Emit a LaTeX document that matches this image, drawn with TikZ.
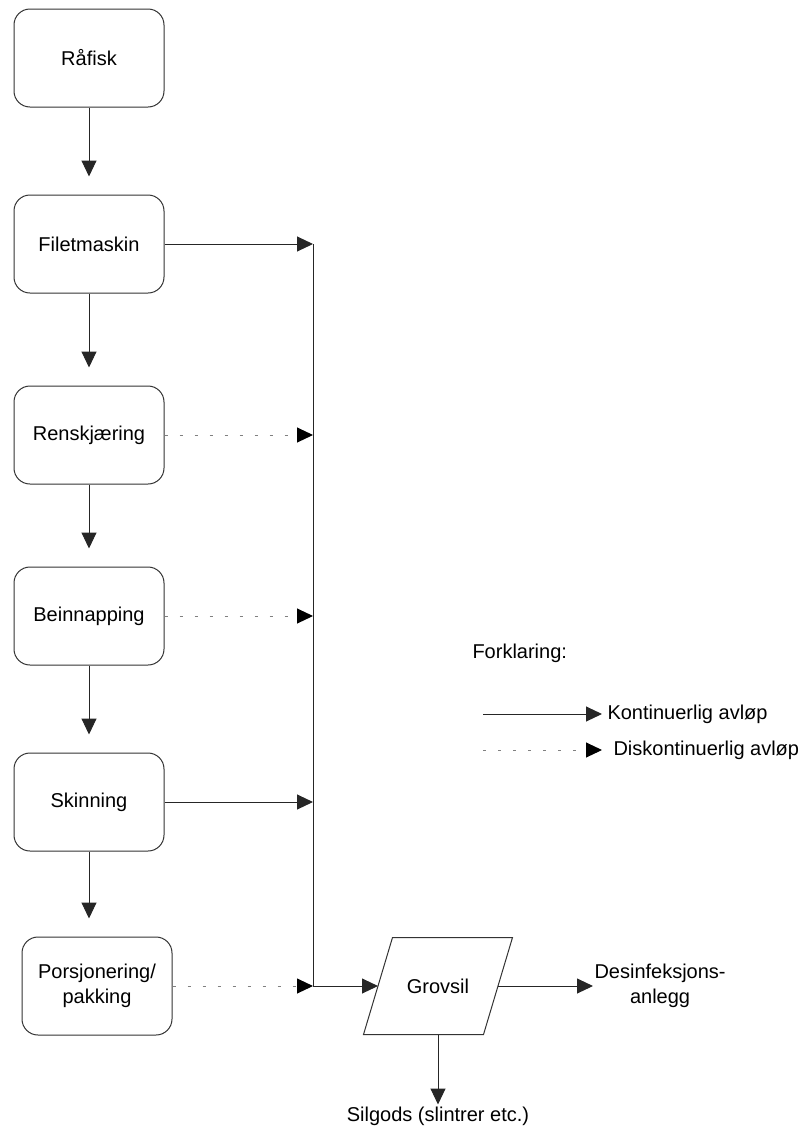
\documentclass[tikz,border=0pt]{standalone}
\usepackage{fontspec}
\setmainfont{Liberation Sans}
\usetikzlibrary{positioning,arrows.meta}

\tikzstyle {stage} = [draw=black!80, rounded corners=16pt, minimum width=150pt, minimum height=98pt, align=center]
\tikzstyle {filter} = [minimum width=119pt, minimum height=96pt]
\tikzstyle {flow} = [draw=black!85, -{Triangle[length=16pt,width=15pt]}]
\tikzstyle {batch} = [draw=black!50, dash pattern=on 3pt off 12pt, -{Triangle[length=16pt,width=15pt,color=black]}]
\tikzstyle {legendtext} = [anchor=west, inner sep=0pt]

\begin{document}
\begin{tikzpicture}[x=1pt, y=-1pt, line width=1pt, node distance=87pt,
                    font=\fontsize{20}{25}\selectfont]
            \useasboundingbox (0,0) rectangle (810,1130);
            % process chain
            \node [stage] (rafisk) at (89,58) {Råfisk};
            \node [stage, below=of rafisk] (filet) {Filetmaskin};
            \node [stage, below=92pt of filet] (rensk) {Renskjæring};
            \node [stage, below=82pt of rensk] (bein) {Beinnapping};
            \node [stage, below=of bein] (skinning) {Skinning};
            \node [stage, below=85pt of skinning, xshift=8pt] (pakking) {Porsjonering/\\pakking};

            \foreach \from/\to in {rafisk/filet, filet/rensk, rensk/bein, bein/skinning, skinning/pakking}
                \draw [flow, shorten >=18pt] (\from) -- (\from.south |- \to.north);

            % collecting drain
            \coordinate (busx) at (313,0);
            \coordinate (busbot) at (pakking.east -| busx);
            \node [filter, right=65pt of busbot] (grovsil) {Grovsil};
            \draw [draw=black!80] ([xshift=14.5pt]grovsil.north west) -- ([xshift=14.5pt]grovsil.north east)
                -- ([xshift=-14.5pt]grovsil.south east) -- ([xshift=-14.5pt]grovsil.south west) -- cycle;
            \draw [flow] (filet.east -| busx) -- (busbot) -- (grovsil.west);

            \draw [flow] (filet.east) -- (filet.east -| busx);
            \draw [batch] (rensk.east) -- (rensk.east -| busx);
            \draw [batch] (bein.east) -- (bein.east -| busx);
            \draw [flow] (skinning.east) -- (skinning.east -| busx);
            \draw [batch] (pakking.east) -- (busbot);

            % outlets
            \node [anchor=west, align=center, inner sep=1pt, right=95pt of grovsil.east] (desinf) {Desinfeksjons-\\anlegg};
            \draw [flow] (grovsil.east) -- (desinf.west);
            \node [below=70pt of grovsil.south, inner sep=2pt] (silgods) {Silgods (slintrer etc.)};
            \draw [flow] (grovsil.south) -- (silgods.north);

            % legend
            \node [legendtext] (forklaring) at (472,653) {Forklaring:};
            \coordinate (kontstart) at (483,714);
            \node [legendtext, inner xsep=5pt] (kont) at (602,714) {Kontinuerlig avløp};
            \draw [flow] (kontstart) -- (kont.west);
            \coordinate (diskstart) at (483,750);
            \node [legendtext, inner xsep=11pt] (disk) at (602,750) {Diskontinuerlig avløp};
            \draw [batch] (diskstart) -- (disk.west);
        \end{tikzpicture}
\end{document}
